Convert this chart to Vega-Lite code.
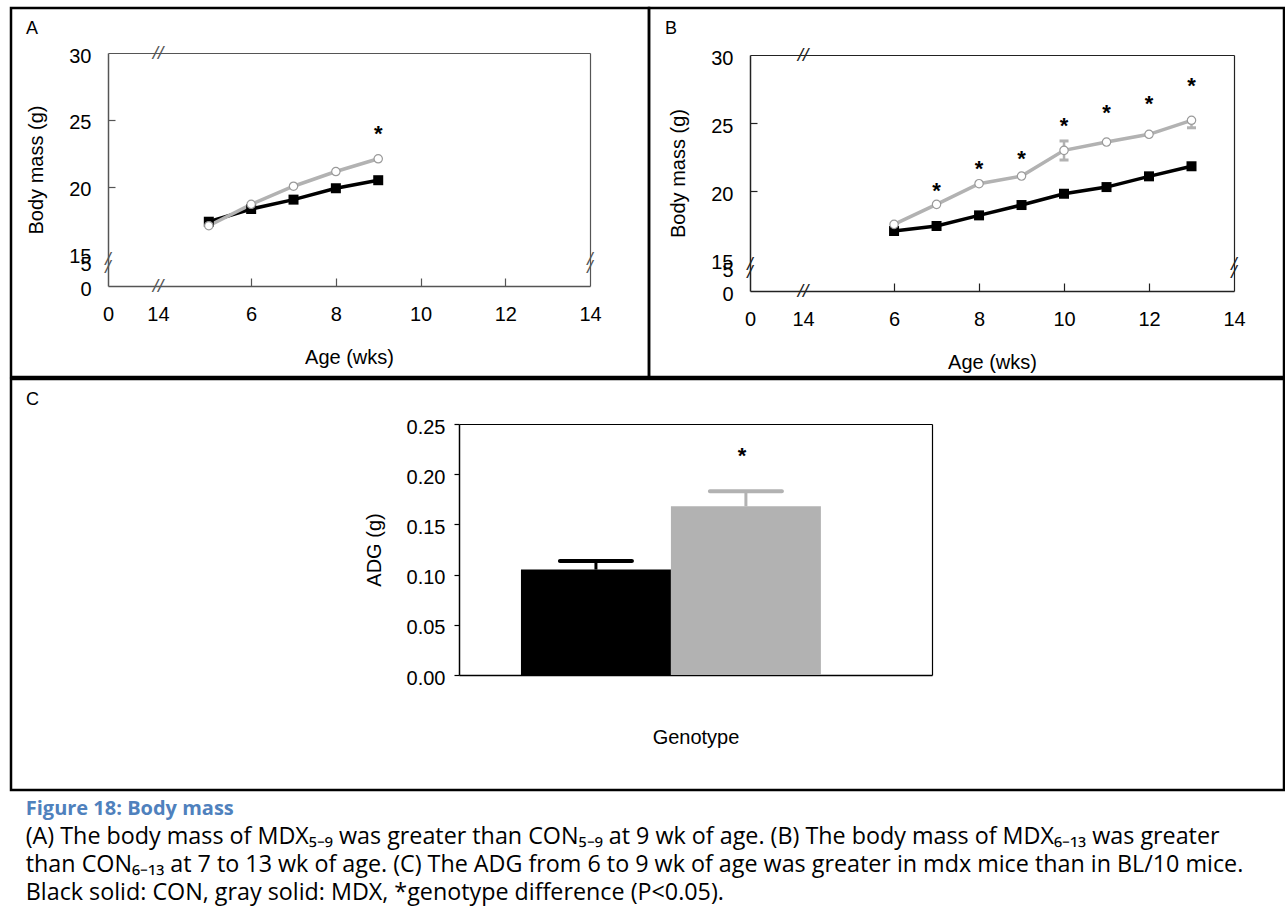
{
  "$schema": "https://vega.github.io/schema/vega-lite/v6.json",
  "padding": {"left": 9, "top": 6, "right": 0, "bottom": 4},
  "background": "white",
  "spacing": -5,
  "title": {
    "text": "Figure 18: Body mass",
    "subtitle": [
      "(A) The body mass of MDX₅₋₉ was greater than CON₅₋₉ at 9 wk of age. (B) The body mass of MDX₆₋₁₃ was greater",
      "than CON₆₋₁₃ at 7 to 13 wk of age. (C) The ADG from 6 to 9 wk of age was greater in mdx mice than in BL/10 mice.",
      "Black solid: CON, gray solid: MDX, *genotype difference (P<0.05)."
    ],
    "orient": "bottom",
    "anchor": "start",
    "frame": "bounds",
    "offset": 8,
    "dx": 16,
    "font": "Open Sans",
    "fontSize": 20,
    "fontWeight": "bold",
    "color": "#4f81bd",
    "subtitleFont": "Open Sans",
    "subtitleFontSize": 23.3,
    "subtitleColor": "black",
    "subtitleLineHeight": 28,
    "subtitlePadding": 7
  },
  "datasets": {
    "A": [
      {"week": 5, "group": "CON", "mass": 17.4},
      {"week": 6, "group": "CON", "mass": 18.35},
      {"week": 7, "group": "CON", "mass": 19.05},
      {"week": 8, "group": "CON", "mass": 19.9},
      {"week": 9, "group": "CON", "mass": 20.5},
      {"week": 5, "group": "MDX", "mass": 17.1},
      {"week": 6, "group": "MDX", "mass": 18.7},
      {"week": 7, "group": "MDX", "mass": 20.05},
      {"week": 8, "group": "MDX", "mass": 21.15},
      {"week": 9, "group": "MDX", "mass": 22.1}
    ],
    "Asig": [{"week": 9, "mass": 24.05}],
    "Abrk": [
      {"week": 3.8, "mass": 30, "t": "//"},
      {"week": 3.8, "mass": 12.6, "t": "//"},
      {"week": 2.62, "mass": 14.6, "t": "/\n/"},
      {"week": 14, "mass": 14.6, "t": "/\n/"}
    ],
    "B": [
      {"week": 6, "group": "CON", "mass": 17.06},
      {"week": 7, "group": "CON", "mass": 17.43},
      {"week": 8, "group": "CON", "mass": 18.21},
      {"week": 9, "group": "CON", "mass": 18.97},
      {"week": 10, "group": "CON", "mass": 19.8},
      {"week": 11, "group": "CON", "mass": 20.29},
      {"week": 12, "group": "CON", "mass": 21.08},
      {"week": 13, "group": "CON", "mass": 21.82},
      {"week": 6, "group": "MDX", "mass": 17.55},
      {"week": 7, "group": "MDX", "mass": 19.02},
      {"week": 8, "group": "MDX", "mass": 20.54},
      {"week": 9, "group": "MDX", "mass": 21.1},
      {"week": 10, "group": "MDX", "mass": 22.99},
      {"week": 11, "group": "MDX", "mass": 23.6},
      {"week": 12, "group": "MDX", "mass": 24.17},
      {"week": 13, "group": "MDX", "mass": 25.2}
    ],
    "Berr": [
      {"week": 10, "lo": 22.28, "hi": 23.68},
      {"week": 13, "lo": 24.65, "hi": 25.2}
    ],
    "Bcap": [
      {"week": 10, "mass": 22.28},
      {"week": 10, "mass": 23.68},
      {"week": 13, "mass": 24.65}
    ],
    "Bsig": [
      {"week": 7, "mass": 20.05},
      {"week": 8, "mass": 21.71},
      {"week": 9, "mass": 22.45},
      {"week": 10, "mass": 24.83},
      {"week": 11, "mass": 25.81},
      {"week": 12, "mass": 26.5},
      {"week": 13, "mass": 27.77}
    ],
    "Bbrk": [
      {"week": 3.86, "mass": 30, "t": "//"},
      {"week": 3.86, "mass": 12.65, "t": "//"},
      {"week": 2.61, "mass": 14.65, "t": "/\n/"},
      {"week": 14, "mass": 14.65, "t": "/\n/"}
    ],
    "C": [
      {"genotype": "CON", "adg": 0.105, "upper": 0.1135},
      {"genotype": "MDX", "adg": 0.168, "upper": 0.1829}
    ],
    "Csig": [{"genotype": "MDX", "level": 0.2195}]
  },
  "vconcat": [
    {
      "hconcat": [
        {
          "width": 638,
          "height": 369,
          "title": {"text": "A", "anchor": "start", "frame": "group", "orient": "top", "offset": -44, "dx": 15, "baseline": "alphabetic", "fontSize": 18, "fontWeight": "normal", "font": "Liberation Sans", "color": "black"},
          "encoding": {
            "x": {"field": "week", "type": "quantitative", "scale": {"domain": [2.62, 14], "range": [97, 579], "nice": false, "zero": false}, "axis": null},
            "y": {"field": "mass", "type": "quantitative", "scale": {"domain": [12.6, 30], "range": [278, 45], "nice": false, "zero": false}, "axis": null}
          },
          "layer": [
            {
              "data": {"name": "A"},
              "mark": {"type": "line", "strokeWidth": 3.5},
              "encoding": {
                "x": {"field": "week", "type": "quantitative", "scale": {"domain": [2.62, 14], "range": [97, 579], "nice": false, "zero": false},
                  "axis": {"orient": "bottom", "offset": -91, "values": [2.62, 3.8, 6, 8, 10, 12, 14], "labelExpr": "datum.value < 3 ? '0' : datum.value < 5 ? '14' : format(datum.value, 'd')", "labelFlush": false, "labelOverlap": false, "labelFontSize": 20, "labelPadding": 26, "tickSize": -8, "tickWidth": 1.2, "tickColor": "#555555", "tickOpacity": {"condition": {"test": "datum.value >= 6 && datum.value <= 12", "value": 1}, "value": 0}, "domainColor": "#555555", "domainWidth": 1.5, "title": "Age (wks)", "titleFontSize": 20, "titlePadding": 23}},
                "y": {"field": "mass", "type": "quantitative", "scale": {"domain": [12.6, 30], "range": [278, 45], "nice": false, "zero": false},
                  "axis": {"orient": "left", "offset": -97, "values": [12.6, 14.4, 15, 20, 25, 30], "labelExpr": "datum.value < 13 ? '0' : datum.value < 14.9 ? '5' : format(datum.value, 'd')", "labelFlush": false, "labelOverlap": false, "labelFontSize": 20, "labelOffset": 3, "labelPadding": 24, "tickSize": -7, "tickWidth": 1.2, "tickColor": "#555555", "tickOpacity": {"condition": {"test": "datum.value == 20 || datum.value == 25", "value": 1}, "value": 0}, "domainColor": "#555555", "domainWidth": 1.5, "title": "Body mass (g)", "titleFontSize": 20, "titlePadding": 22}},
                "color": {"field": "group", "type": "nominal", "scale": {"domain": ["CON", "MDX"], "range": ["#000000", "#b2b2b2"]}, "legend": null}
              }
            },
            {
              "data": {"name": "A"},
              "transform": [{"filter": "datum.group == 'CON'"}],
              "mark": {"type": "point", "shape": "square", "filled": true, "size": 100, "color": "black", "opacity": 1}
            },
            {
              "data": {"name": "A"},
              "transform": [{"filter": "datum.group == 'MDX'"}],
              "mark": {"type": "point", "shape": "circle", "filled": true, "fill": "white", "stroke": "#9a9a9a", "strokeWidth": 1.2, "size": 70, "opacity": 1}
            },
            {
              "data": {"name": "Abrk"},
              "mark": {"type": "text", "fontSize": 19, "fontStyle": "italic", "color": "#555555", "lineBreak": "\n", "lineHeight": 8},
              "encoding": {"text": {"field": "t"}}
            },
            {
              "data": {"name": "Asig"},
              "mark": {"type": "text", "text": "*", "fontSize": 22, "fontWeight": "bold", "dy": 1, "color": "black"},
              "encoding": {
                "x": {"field": "week", "type": "quantitative", "scale": {"domain": [2.62, 14], "range": [97, 579], "nice": false, "zero": false},
                  "axis": {"orient": "top", "offset": -45, "labels": false, "ticks": false, "title": null, "domainColor": "#555555", "domainWidth": 1.2}},
                "y": {"field": "mass", "type": "quantitative", "scale": {"domain": [12.6, 30], "range": [278, 45], "nice": false, "zero": false},
                  "axis": {"orient": "right", "offset": -59, "labels": false, "ticks": false, "title": null, "domainColor": "#555555", "domainWidth": 1.2}}
              }
            }
          ]
        },
        {
          "width": 635,
          "height": 369,
          "title": {"text": "B", "anchor": "start", "frame": "group", "orient": "top", "offset": -44, "dx": 16, "baseline": "alphabetic", "fontSize": 18, "fontWeight": "normal", "font": "Liberation Sans", "color": "black"},
          "encoding": {
            "x": {"field": "week", "type": "quantitative", "scale": {"domain": [2.61, 14], "range": [101, 585], "nice": false, "zero": false}, "axis": null},
            "y": {"field": "mass", "type": "quantitative", "scale": {"domain": [12.65, 30], "range": [283, 47], "nice": false, "zero": false}, "axis": null}
          },
          "layer": [
            {
              "data": {"name": "Berr"},
              "mark": {"type": "rule", "strokeWidth": 2.5, "color": "#b2b2b2"},
              "encoding": {"y": {"field": "lo", "type": "quantitative", "scale": {"domain": [12.65, 30], "range": [283, 47], "nice": false, "zero": false}, "axis": null}, "y2": {"field": "hi"}}
            },
            {
              "data": {"name": "Bcap"},
              "mark": {"type": "tick", "orient": "horizontal", "size": 9, "thickness": 3, "color": "#b2b2b2", "opacity": 1}
            },
            {
              "data": {"name": "B"},
              "mark": {"type": "line", "strokeWidth": 3.5},
              "encoding": {
                "x": {"field": "week", "type": "quantitative", "scale": {"domain": [2.61, 14], "range": [101, 585], "nice": false, "zero": false},
                  "axis": {"orient": "bottom", "offset": -86, "values": [2.61, 3.86, 6, 8, 10, 12, 14], "labelExpr": "datum.value < 3 ? '0' : datum.value < 5 ? '14' : format(datum.value, 'd')", "labelFlush": false, "labelOverlap": false, "labelFontSize": 20, "labelPadding": 26, "tickSize": -8, "tickWidth": 1.2, "tickColor": "#222222", "tickOpacity": {"condition": {"test": "datum.value >= 6 && datum.value <= 12", "value": 1}, "value": 0}, "domainColor": "#222222", "domainWidth": 1.5, "title": "Age (wks)", "titleFontSize": 20, "titlePadding": 23}},
                "y": {"field": "mass", "type": "quantitative", "scale": {"domain": [12.65, 30], "range": [283, 47], "nice": false, "zero": false},
                  "axis": {"orient": "left", "offset": -101, "values": [12.65, 14.4, 15, 20, 25, 30], "labelExpr": "datum.value < 13 ? '0' : datum.value < 14.9 ? '5' : format(datum.value, 'd')", "labelFlush": false, "labelOverlap": false, "labelFontSize": 20, "labelOffset": 3, "labelPadding": 24, "tickSize": -7, "tickWidth": 1.2, "tickColor": "#222222", "tickOpacity": {"condition": {"test": "datum.value == 20 || datum.value == 25", "value": 1}, "value": 0}, "domainColor": "#222222", "domainWidth": 1.5, "title": "Body mass (g)", "titleFontSize": 20, "titlePadding": 22}},
                "color": {"field": "group", "type": "nominal", "scale": {"domain": ["CON", "MDX"], "range": ["#000000", "#b2b2b2"]}, "legend": null}
              }
            },
            {
              "data": {"name": "B"},
              "transform": [{"filter": "datum.group == 'CON'"}],
              "mark": {"type": "point", "shape": "square", "filled": true, "size": 100, "color": "black", "opacity": 1}
            },
            {
              "data": {"name": "B"},
              "transform": [{"filter": "datum.group == 'MDX'"}],
              "mark": {"type": "point", "shape": "circle", "filled": true, "fill": "white", "stroke": "#9a9a9a", "strokeWidth": 1.2, "size": 70, "opacity": 1}
            },
            {
              "data": {"name": "Bbrk"},
              "mark": {"type": "text", "fontSize": 19, "fontStyle": "italic", "color": "#222222", "lineBreak": "\n", "lineHeight": 8},
              "encoding": {"text": {"field": "t"}}
            },
            {
              "data": {"name": "Bsig"},
              "mark": {"type": "text", "text": "*", "fontSize": 22, "fontWeight": "bold", "dy": 1, "color": "black"},
              "encoding": {
                "x": {"field": "week", "type": "quantitative", "scale": {"domain": [2.61, 14], "range": [101, 585], "nice": false, "zero": false},
                  "axis": {"orient": "top", "offset": -47, "labels": false, "ticks": false, "title": null, "domainColor": "#222222", "domainWidth": 1.2}},
                "y": {"field": "mass", "type": "quantitative", "scale": {"domain": [12.65, 30], "range": [283, 47], "nice": false, "zero": false},
                  "axis": {"orient": "right", "offset": -50, "labels": false, "ticks": false, "title": null, "domainColor": "#222222", "domainWidth": 1.2}}
              }
            }
          ]
        }
      ],
      "spacing": 0,
      "bounds": "flush"
    },
    {
      "width": 1273,
      "height": 411,
      "title": {"text": "C", "anchor": "start", "frame": "group", "orient": "top", "offset": -44, "dx": 15, "baseline": "alphabetic", "fontSize": 18, "fontWeight": "normal", "font": "Liberation Sans", "color": "black"},
      "encoding": {
        "x": {"field": "genotype", "type": "nominal", "scale": {"domain": ["CON", "MDX"], "range": [448, 921], "paddingInner": 0, "paddingOuter": 0.577, "align": 0.358}, "axis": null},
        "y": {"field": "adg", "type": "quantitative", "scale": {"domain": [0, 0.25], "range": [296, 45], "nice": false, "zero": true}, "axis": null},
        "color": {"field": "genotype", "type": "nominal", "scale": {"domain": ["CON", "MDX"], "range": ["#000000", "#b2b2b2"]}, "legend": null}
      },
      "layer": [
        {
          "data": {"name": "C"},
          "mark": {"type": "bar"},
          "encoding": {
            "x": {"field": "genotype", "type": "nominal", "scale": {"domain": ["CON", "MDX"], "range": [448, 921], "paddingInner": 0, "paddingOuter": 0.577, "align": 0.358},
              "axis": {"orient": "bottom", "offset": -115, "labels": false, "ticks": false, "domainColor": "black", "domainWidth": 1.5, "title": "Genotype", "titleFontSize": 20, "titlePadding": 52}},
            "y": {"field": "adg", "type": "quantitative", "scale": {"domain": [0, 0.25], "range": [296, 45], "nice": false, "zero": true},
              "axis": {"orient": "left", "offset": -448, "values": [0, 0.05, 0.1, 0.15, 0.2, 0.25], "format": ".2f", "labelFontSize": 20, "labelOffset": 3, "labelPadding": 9, "labelFlush": false, "labelOverlap": false, "tickSize": 5, "tickWidth": 1.2, "tickColor": "black", "domainColor": "black", "domainWidth": 1.5, "title": "ADG (g)", "titleFontSize": 20, "titlePadding": 22}}
          }
        },
        {
          "data": {"name": "C"},
          "mark": {"type": "rule", "strokeWidth": 3},
          "encoding": {"y2": {"field": "upper"}}
        },
        {
          "data": {"name": "C"},
          "mark": {"type": "tick", "orient": "horizontal", "size": 76, "thickness": 4, "cornerRadius": 2, "opacity": 1},
          "encoding": {"y": {"field": "upper", "type": "quantitative", "scale": {"domain": [0, 0.25], "range": [296, 45], "nice": false, "zero": true}, "axis": null}}
        },
        {
          "data": {"name": "Csig"},
          "mark": {"type": "text", "text": "*", "fontSize": 22, "fontWeight": "bold", "dy": 1, "dx": -4, "color": "black"},
          "encoding": {
            "color": {"value": "black"},
            "x": {"field": "genotype", "type": "nominal", "scale": {"domain": ["CON", "MDX"], "range": [448, 921], "paddingInner": 0, "paddingOuter": 0.577, "align": 0.358},
              "axis": {"orient": "top", "offset": -45, "labels": false, "ticks": false, "title": null, "domainColor": "black", "domainWidth": 1.2}},
            "y": {"field": "level", "type": "quantitative", "scale": {"domain": [0, 0.25], "range": [296, 45], "nice": false, "zero": true},
              "axis": {"orient": "right", "offset": -352, "labels": false, "ticks": false, "title": null, "domainColor": "black", "domainWidth": 1.2}}
          }
        }
      ]
    }
  ],
  "config": {
    "view": {"stroke": "black", "strokeWidth": 2.5},
    "axis": {"grid": false, "labelFont": "Liberation Sans", "titleFont": "Liberation Sans", "labelColor": "black", "titleColor": "black", "titleFontWeight": "normal"},
    "text": {"font": "Liberation Sans"}
  }
}
